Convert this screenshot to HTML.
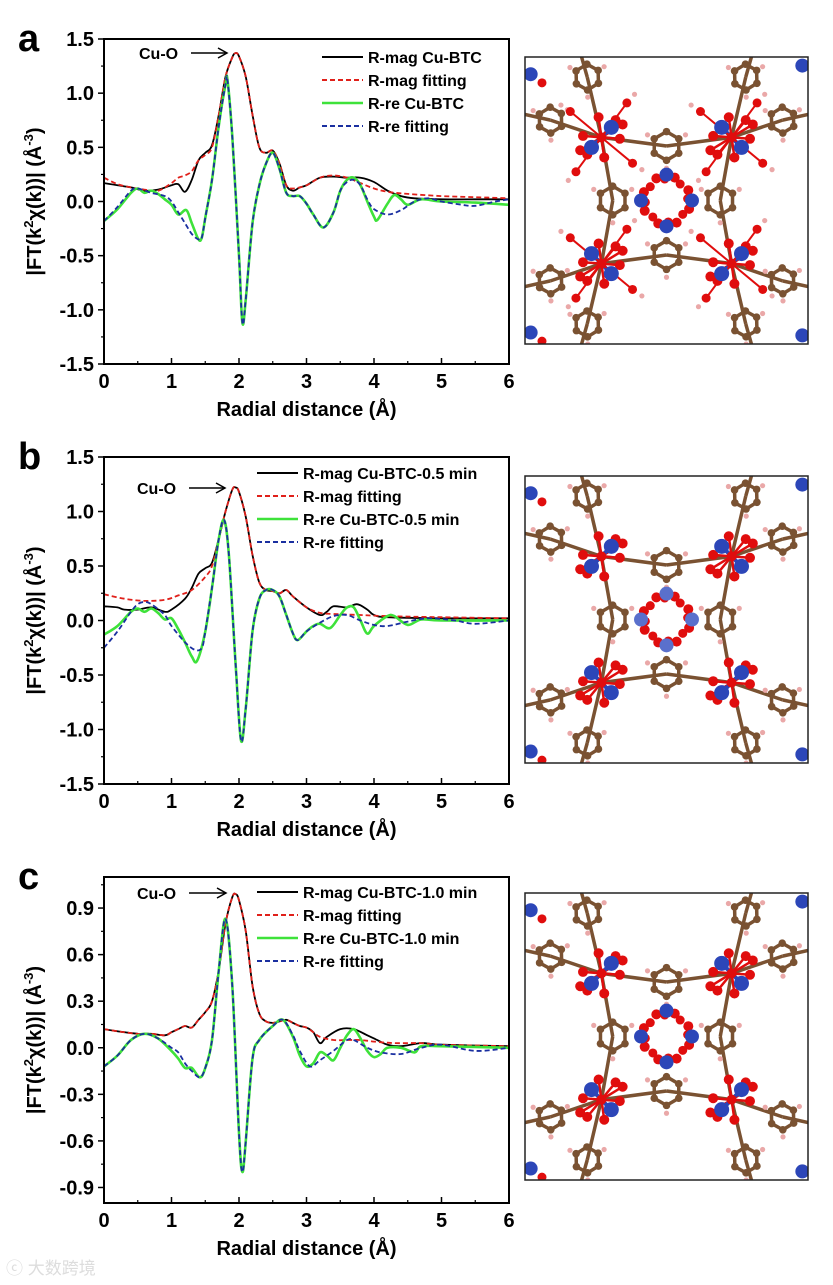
<!DOCTYPE html>
<html><head><meta charset="utf-8">
<style>
html,body{margin:0;padding:0;background:#fff;}
body{width:833px;height:1280px;overflow:hidden;position:relative;font-family:"Liberation Sans",Arial,sans-serif;}
svg text{font-family:"Liberation Sans",Arial,sans-serif;font-weight:bold;}
</style></head>
<body>
<svg id="fig" width="833" height="1280" viewBox="0 0 833 1280" xmlns="http://www.w3.org/2000/svg"></svg>
<div style="position:absolute;left:6px;top:1254px;font-size:17px;color:#ddd;font-family:'Liberation Sans','Noto Sans CJK SC',sans-serif;">ⓒ 大数跨境</div>
<script>
// ---------- Panel a data ----------
const aMagX=[0,0.2,0.4,0.6,0.8,1.0,1.1,1.2,1.3,1.4,1.5,1.6,1.7,1.8,1.9,1.95,2.0,2.1,2.2,2.3,2.4,2.5,2.6,2.7,2.8,2.9,3.0,3.2,3.4,3.6,3.8,4.0,4.2,4.4,4.6,5.0,5.5,6.0];
const aMagY=[0.17,0.15,0.13,0.10,0.11,0.15,0.16,0.09,0.20,0.38,0.45,0.52,0.80,1.15,1.33,1.37,1.34,1.15,0.80,0.50,0.45,0.47,0.35,0.15,0.10,0.13,0.15,0.22,0.23,0.22,0.22,0.18,0.10,0.05,0.03,0.02,0.02,0.02];
const aMagFitX=[0,0.2,0.4,0.6,0.8,1.0,1.1,1.2,1.3,1.4,1.5,1.6,1.7,1.8,1.9,1.95,2.0,2.1,2.2,2.3,2.4,2.5,2.6,2.7,2.8,3.0,3.2,3.4,3.6,3.8,4.0,4.2,4.5,5.0,5.5,6.0];
const aMagFitY=[0.22,0.16,0.13,0.11,0.10,0.17,0.22,0.24,0.28,0.38,0.43,0.50,0.80,1.15,1.33,1.37,1.34,1.15,0.80,0.50,0.45,0.47,0.35,0.15,0.12,0.15,0.22,0.24,0.22,0.17,0.12,0.09,0.07,0.05,0.04,0.03];
const aReX=[0,0.2,0.4,0.5,0.6,0.7,0.8,0.9,1.0,1.1,1.22,1.3,1.4,1.45,1.5,1.6,1.7,1.8,1.83,1.9,2.0,2.05,2.1,2.2,2.3,2.4,2.5,2.6,2.7,2.8,2.9,3.0,3.1,3.25,3.4,3.5,3.6,3.7,3.8,3.9,4.0,4.05,4.2,4.3,4.4,4.5,4.7,5.0,5.5,6.0];
const aReY=[-0.18,-0.07,0.08,0.12,0.08,0.10,0.07,0.02,-0.03,-0.12,-0.08,-0.20,-0.35,-0.33,-0.15,0.20,0.70,1.08,1.12,0.60,-0.50,-1.12,-0.90,-0.20,0.15,0.35,0.45,0.30,0.08,0.05,0.05,-0.02,-0.12,-0.24,-0.10,0.10,0.20,0.22,0.15,0.00,-0.14,-0.17,-0.02,0.06,0.02,-0.03,0.02,0.00,-0.01,-0.03];
const aReFitX=[0,0.2,0.4,0.5,0.7,0.9,1.0,1.1,1.2,1.3,1.4,1.45,1.5,1.6,1.7,1.8,1.83,1.9,2.0,2.05,2.1,2.2,2.3,2.4,2.5,2.6,2.7,2.8,2.9,3.0,3.1,3.25,3.4,3.5,3.6,3.7,3.8,3.9,4.0,4.2,4.4,4.6,4.8,5.0,5.3,5.5,5.8,6.0];
const aReFitY=[-0.18,-0.05,0.10,0.12,0.08,0.05,0.00,-0.10,-0.20,-0.30,-0.35,-0.33,-0.15,0.20,0.70,1.08,1.12,0.60,-0.50,-1.12,-0.90,-0.20,0.15,0.35,0.45,0.30,0.08,0.05,0.05,-0.02,-0.12,-0.24,-0.10,0.10,0.18,0.20,0.15,0.02,-0.07,-0.12,-0.08,0.00,0.03,0.00,-0.03,-0.04,0.00,0.02];
// ---------- Panel b data ----------
const bMagX=[0,0.2,0.3,0.5,0.7,0.9,1.0,1.2,1.3,1.4,1.5,1.6,1.7,1.8,1.9,1.95,2.0,2.1,2.2,2.3,2.4,2.5,2.6,2.7,2.8,3.0,3.2,3.3,3.4,3.6,3.75,3.9,4.0,4.2,5.0,6.0];
const bMagY=[0.13,0.12,0.10,0.10,0.12,0.08,0.10,0.20,0.30,0.43,0.48,0.53,0.75,1.00,1.20,1.22,1.18,0.95,0.60,0.35,0.28,0.27,0.25,0.28,0.22,0.12,0.05,0.08,0.13,0.12,0.15,0.10,0.05,0.03,0.02,0.02];
const bMagFitX=[0,0.3,0.6,0.9,1.1,1.3,1.5,1.6,1.7,1.8,1.9,1.95,2.0,2.1,2.2,2.3,2.4,2.5,2.6,2.7,2.8,3.0,3.2,3.4,3.8,4.2,5.0,6.0];
const bMagFitY=[0.24,0.20,0.18,0.19,0.23,0.28,0.40,0.50,0.75,1.00,1.20,1.22,1.18,0.95,0.60,0.35,0.28,0.27,0.25,0.28,0.22,0.12,0.07,0.06,0.05,0.04,0.03,0.02];
const bReX=[0,0.2,0.4,0.5,0.6,0.7,0.8,0.9,1.0,1.1,1.2,1.3,1.38,1.5,1.6,1.7,1.78,1.85,1.95,2.03,2.1,2.2,2.3,2.4,2.5,2.6,2.7,2.8,2.87,3.0,3.1,3.2,3.35,3.5,3.6,3.7,3.8,3.9,4.0,4.2,4.3,4.5,4.7,5.0,6.0];
const bReY=[-0.13,-0.05,0.08,0.11,0.08,0.11,0.07,0.01,0.02,-0.08,-0.20,-0.33,-0.37,-0.10,0.30,0.75,0.92,0.60,-0.40,-1.10,-0.80,-0.10,0.20,0.28,0.28,0.22,0.05,-0.12,-0.18,-0.10,-0.05,-0.03,-0.07,0.05,0.12,0.12,0.00,-0.12,-0.05,0.04,0.04,-0.04,0.01,0.00,0.00];
const bReFitX=[0,0.2,0.4,0.5,0.6,0.7,0.9,1.0,1.2,1.35,1.45,1.5,1.6,1.7,1.78,1.85,1.95,2.03,2.1,2.2,2.3,2.4,2.5,2.6,2.7,2.8,2.87,3.0,3.2,3.4,3.6,3.8,4.0,4.2,4.5,4.8,5.2,5.5,6.0];
const bReFitY=[-0.25,-0.10,0.08,0.15,0.17,0.15,0.05,-0.05,-0.20,-0.27,-0.25,-0.10,0.30,0.75,0.92,0.60,-0.40,-1.10,-0.80,-0.10,0.20,0.28,0.28,0.22,0.05,-0.12,-0.18,-0.10,-0.02,0.04,0.05,0.00,-0.04,-0.05,-0.01,0.02,0.00,-0.03,0.00];
// ---------- Panel c data ----------
const cMagX=[0,0.3,0.5,0.7,0.9,1.0,1.1,1.2,1.3,1.4,1.5,1.6,1.7,1.8,1.9,1.95,2.0,2.1,2.2,2.3,2.4,2.5,2.6,2.7,2.8,2.9,3.0,3.1,3.2,3.3,3.5,3.7,3.9,4.0,4.2,4.4,4.7,5.0,6.0];
const cMagY=[0.12,0.10,0.09,0.09,0.08,0.10,0.12,0.14,0.13,0.18,0.23,0.30,0.50,0.80,0.97,0.99,0.95,0.75,0.40,0.22,0.17,0.16,0.17,0.18,0.16,0.14,0.13,0.10,0.03,0.07,0.12,0.12,0.08,0.06,0.02,0.01,0.03,0.02,0.01];
const cMagFitX=[0,0.3,0.5,0.7,0.9,1.0,1.1,1.2,1.3,1.4,1.5,1.6,1.7,1.8,1.9,1.95,2.0,2.1,2.2,2.3,2.4,2.5,2.6,2.7,2.8,2.9,3.0,3.1,3.2,3.4,3.6,3.8,4.0,4.3,4.7,5.0,6.0];
const cMagFitY=[0.12,0.10,0.09,0.09,0.08,0.10,0.12,0.14,0.13,0.18,0.23,0.30,0.50,0.80,0.97,0.99,0.95,0.75,0.40,0.22,0.17,0.16,0.17,0.18,0.16,0.14,0.13,0.10,0.07,0.05,0.05,0.05,0.04,0.03,0.03,0.02,0.01];
const cReX=[0,0.2,0.4,0.6,0.8,1.0,1.1,1.2,1.3,1.42,1.5,1.6,1.7,1.8,1.9,2.0,2.05,2.1,2.2,2.3,2.5,2.65,2.8,2.9,3.0,3.1,3.2,3.3,3.4,3.5,3.6,3.7,3.8,3.9,4.0,4.1,4.2,4.4,4.6,4.7,5.0,6.0];
const cReY=[-0.12,-0.05,0.05,0.09,0.06,-0.02,-0.07,-0.13,-0.13,-0.19,-0.13,0.05,0.50,0.83,0.40,-0.55,-0.80,-0.60,-0.07,0.05,0.14,0.18,0.07,-0.05,-0.12,-0.10,-0.03,-0.05,-0.08,0.00,0.08,0.12,0.06,-0.02,-0.06,-0.04,0.00,0.00,-0.03,0.01,0.01,0.00];
const cReFitX=[0,0.2,0.4,0.6,0.8,1.0,1.1,1.2,1.3,1.42,1.5,1.6,1.7,1.8,1.9,2.0,2.05,2.1,2.2,2.3,2.5,2.65,2.8,2.9,3.05,3.2,3.4,3.6,3.7,3.9,4.1,4.4,4.7,5.0,5.5,6.0];
const cReFitY=[-0.12,-0.05,0.05,0.09,0.06,0.00,-0.03,-0.10,-0.15,-0.19,-0.13,0.05,0.50,0.83,0.40,-0.55,-0.80,-0.60,-0.07,0.05,0.14,0.18,0.08,-0.02,-0.12,-0.08,-0.02,0.05,0.05,0.00,-0.03,-0.04,0.00,0.02,-0.02,0.00];
// ---------- axis ticks ----------
const xTicks=[0,1,2,3,4,5,6];
const yTicksAB=[-1.5,-1.0,-0.5,0.0,0.5,1.0,1.5];
const yTicksC=[-0.9,-0.6,-0.3,0.0,0.3,0.6,0.9];
const legendA=["R-mag Cu-BTC","R-mag fitting","R-re Cu-BTC","R-re fitting"];
const legendB=["R-mag Cu-BTC-0.5 min","R-mag fitting","R-re Cu-BTC-0.5 min","R-re fitting"];
const legendC=["R-mag Cu-BTC-1.0 min","R-mag fitting","R-re Cu-BTC-1.0 min","R-re fitting"];

const NS="http://www.w3.org/2000/svg";
const svg=document.getElementById('fig');
function mk(tag,attrs,parent){const e=document.createElementNS(NS,tag);for(const k in attrs)e.setAttribute(k,attrs[k]);(parent||svg).appendChild(e);return e;}

function smoothPath(px,py){
  let d="M"+px[0].toFixed(1)+","+py[0].toFixed(1);
  for(let i=0;i<px.length-1;i++){
    const x0=px[Math.max(i-1,0)],y0=py[Math.max(i-1,0)],x1=px[i],y1=py[i],x2=px[i+1],y2=py[i+1],x3=px[Math.min(i+2,px.length-1)],y3=py[Math.min(i+2,px.length-1)];
    const c1x=x1+(x2-x0)/6,c1y=y1+(y2-y0)/6,c2x=x2-(x3-x1)/6,c2y=y2-(y3-y1)/6;
    d+=" C"+c1x.toFixed(1)+","+c1y.toFixed(1)+" "+c2x.toFixed(1)+","+c2y.toFixed(1)+" "+x2.toFixed(1)+","+y2.toFixed(1);
  }
  return d;
}

function panel(opt){
  const L=104,R=509,T=opt.top,B=opt.bottom;
  const g=mk('g',{});
  
  
  const xs=v=>L+(v-0)/(6-0)*(R-L);
  const ys=v=>B-(v-opt.ymin)/(opt.ymax-opt.ymin)*(B-T);
  const cid='clip'+opt.letter;
  const cp=mk('clipPath',{id:cid},g);mk('rect',{x:L,y:T,width:R-L,height:B-T},cp);
  const series=[
    {x:opt.magX,y:opt.magY,c:'#000',dash:'',n:'series-mag-data'},
    {x:opt.magFitX,y:opt.magFitY,c:'#e0201a',dash:'5,3',n:'series-mag-fit'},
    {x:opt.reX,y:opt.reY,c:'#3ee23a',dash:'',n:'series-re-data',w:2.6},
    {x:opt.reFitX,y:opt.reFitY,c:'#1a2fa0',dash:'5,3',n:'series-re-fit'}
  ];
  series.forEach(s=>{
    const p=mk('path',{d:smoothPath(s.x.map(xs),s.y.map(ys)),fill:'none',stroke:s.c,'stroke-width':s.w||1.8,'stroke-dasharray':s.dash,'clip-path':'url(#'+cid+')'},g);
    
    
  });
  const fr=mk('rect',{x:L,y:T,width:R-L,height:B-T,fill:'none',stroke:'#000','stroke-width':2},g);
  
  
  xTicks.forEach((v,i)=>{
    const x=xs(v);
    mk('line',{x1:x,y1:B,x2:x,y2:B-6,stroke:'#000','stroke-width':1.5},g);
    if(i<xTicks.length-1){const xm=xs(v+0.5);mk('line',{x1:xm,y1:B,x2:xm,y2:B-3,stroke:'#000','stroke-width':1.2},g);}
    const t=mk('text',{x:x,y:B+24,'text-anchor':'middle','font-size':20},g);t.textContent=String(v);
    
    
  });
  opt.yTicks.forEach((v,i)=>{
    const y=ys(v);
    mk('line',{x1:L,y1:y,x2:L-6,y2:y,stroke:'#000','stroke-width':1.5},g);
    const ym=ys(v+opt.minor);
    if(ym>T) mk('line',{x1:L,y1:ym,x2:L-3,y2:ym,stroke:'#000','stroke-width':1.2},g);
    if(i===0){const y0=ys(v-opt.minor);if(y0<B)mk('line',{x1:L,y1:y0,x2:L-3,y2:y0,stroke:'#000','stroke-width':1.2},g);}
    const t=mk('text',{x:L-10,y:y+7,'text-anchor':'end','font-size':20},g);t.textContent=v.toFixed(1);
    
    
  });
  const xt=mk('text',{x:(L+R)/2,y:B+52,'text-anchor':'middle','font-size':20},g);xt.textContent='Radial distance (Å)';
  
  
  const cy=(T+B)/2;
  const yt=mk('text',{x:0,y:0,'text-anchor':'middle','font-size':20,transform:'translate(41,'+cy+') rotate(-90)'},g);
  yt.innerHTML='|FT(k<tspan font-size="13" dy="-8">2</tspan><tspan dy="8">χ(k))| (Å</tspan><tspan font-size="13" dy="-8">-3</tspan><tspan dy="8">)</tspan>';
  
  
  const lt=mk('text',{x:18,y:opt.top+12,'font-size':38},g);lt.textContent=opt.letter;
  
  
  const ct=mk('text',{x:opt.cuX,y:opt.cuY+6,'font-size':16},g);ct.textContent='Cu-O';
  
  
  mk('line',{x1:opt.cuX+52,y1:opt.cuY,x2:opt.arrowEnd,y2:opt.cuY,stroke:'#000','stroke-width':1.5},g);
  mk('path',{d:'M'+(opt.arrowEnd-9)+','+(opt.cuY-5)+' L'+opt.arrowEnd+','+opt.cuY+' L'+(opt.arrowEnd-9)+','+(opt.cuY+5),fill:'none',stroke:'#000','stroke-width':1.5},g);
  const cols=['#000','#e0201a','#3ee23a','#1a2fa0'],dashes=['','5,3','','5,3'];
  opt.legend.forEach((s,i)=>{
    const y=opt.legY+i*23;
    const lg=mk('g',{},g);
    
    
    mk('line',{x1:opt.legX,y1:y,x2:opt.legX+41,y2:y,stroke:cols[i],'stroke-width':i===2?2.6:2,'stroke-dasharray':dashes[i]},lg);
    const t=mk('text',{x:opt.legX+46,y:y+6,'font-size':16},lg);t.textContent=s;
  });
}

panel({name:'chart-a',letter:'a',top:39,bottom:364,ymin:-1.5,ymax:1.5,minor:0.25,yTicks:yTicksAB,
  magX:aMagX,magY:aMagY,magFitX:aMagFitX,magFitY:aMagFitY,reX:aReX,reY:aReY,reFitX:aReFitX,reFitY:aReFitY,
  legend:legendA,legX:322,legY:57,cuX:139,cuY:53,arrowEnd:227});
panel({name:'chart-b',letter:'b',top:457,bottom:784,ymin:-1.5,ymax:1.5,minor:0.25,yTicks:yTicksAB,
  magX:bMagX,magY:bMagY,magFitX:bMagFitX,magFitY:bMagFitY,reX:bReX,reY:bReY,reFitX:bReFitX,reFitY:bReFitY,
  legend:legendB,legX:257,legY:473,cuX:137,cuY:488,arrowEnd:225});
panel({name:'chart-c',letter:'c',top:877,bottom:1203,ymin:-1.0,ymax:1.1,minor:0.15,yTicks:yTicksC,
  magX:cMagX,magY:cMagY,magFitX:cMagFitX,magFitY:cMagFitY,reX:cReX,reY:cReY,reFitX:cReFitX,reFitY:cReFitY,
  legend:legendC,legX:257,legY:892,cuX:137,cuY:893,arrowEnd:226});

// ---------- molecular structure images ----------
function structure(name,bx,by,bw,bh,variant){
  const g=mk('g',{});
  
  
  const cid='clip-'+name;
  const cp=mk('clipPath',{id:cid},g);mk('rect',{x:bx,y:by,width:bw,height:bh},cp);
  const inner=mk('g',{'clip-path':'url(#'+cid+')'},g);
  const P=(u,v)=>[bx+u*bw,by+v*bh];
  const brown='#7a5232',red='#e00d0d',blue='#2c46b8',pink='#eaa8a8';
  const bond=(a,b,c,w)=>{const p=P(a[0],a[1]),q=P(b[0],b[1]);mk('line',{x1:p[0],y1:p[1],x2:q[0],y2:q[1],stroke:c||brown,'stroke-width':w||3.5},inner);};
  const ball=(u,v,r,c)=>{const p=P(u,v);mk('circle',{cx:p[0],cy:p[1],r:r,fill:c},inner);};
  const ringPts=(cu,cv,rad,rot)=>{const pts=[];for(let k=0;k<6;k++){const a=rot+k*Math.PI/3;pts.push([cu+rad*Math.cos(a),cv+rad*Math.sin(a)]);}return pts;};
  const drawRing=(cu,cv,rad,rot,h)=>{const pts=ringPts(cu,cv,rad,rot);
    for(let k=0;k<6;k++)bond(pts[k],pts[(k+1)%6]);
    if(h)[1,3,5].forEach(k=>{const p=pts[k];ball(cu+(p[0]-cu)*1.55,cv+(p[1]-cv)*1.55,2.6,pink);});
    pts.forEach(p=>ball(p[0],p[1],3.8,brown));return pts;};
  const clusters=[[0.27,0.28],[0.73,0.28],[0.27,0.72],[0.73,0.72]];
  const inner4=[[0.5,0.31],[0.31,0.5],[0.69,0.5],[0.5,0.69]];
  // outer rings near edges
  const outer=[[0.09,0.22],[0.22,0.07],[0.91,0.22],[0.78,0.07],[0.09,0.78],[0.22,0.93],[0.91,0.78],[0.78,0.93]];
  const oc=[0,0,1,1,2,2,3,3];
  outer.forEach((o,i)=>bond(o,clusters[oc[i]]));
  bond([0,0.2],[0.09,0.22]);bond([1,0.2],[0.91,0.22]);bond([0,0.8],[0.09,0.78]);bond([1,0.8],[0.91,0.78]);
  bond([0.2,0],[0.22,0.07]);bond([0.8,0],[0.78,0.07]);bond([0.2,1],[0.22,0.93]);bond([0.8,1],[0.78,0.93]);
  bond(clusters[0],inner4[0]);bond(clusters[1],inner4[0]);bond(clusters[2],inner4[3]);bond(clusters[3],inner4[3]);
  bond(clusters[0],inner4[1]);bond(clusters[2],inner4[1]);bond(clusters[1],inner4[2]);bond(clusters[3],inner4[2]);
  outer.forEach(o=>drawRing(o[0],o[1],0.045,0.5,true));
  inner4.forEach(r=>drawRing(r[0],r[1],0.05,Math.PI/6,true));
  // clusters
  clusters.forEach((c,i)=>{
    const s=(i===0||i===3)?1:-1;
    const b1=[c[0]-0.035,c[1]+0.035*s],b2=[c[0]+0.035,c[1]-0.035*s];
    const reds=[[-0.065,-0.005],[0.065,0.005],[-0.01,-0.07],[0.01,0.07],[-0.05,0.06],[0.05,-0.06],[0.0,0.0],[-0.075,0.045],[0.075,-0.045]];
    reds.forEach(r=>bond(c,[c[0]+r[0],c[1]+r[1]],red,2.5));
    bond(b1,b2,blue,4);
    if(variant===0){[[-0.11,-0.09],[0.11,0.09],[-0.09,0.12],[0.09,-0.12]].forEach(r=>{bond(c,[c[0]+r[0],c[1]+r[1]],red,2);ball(c[0]+r[0]*1.3,c[1]+r[1]*1.25,2.6,pink);ball(c[0]+r[0],c[1]+r[1],4.5,red);});}
    reds.forEach(r=>ball(c[0]+r[0],c[1]+r[1],5,red));
    ball(b1[0],b1[1],7.5,blue);ball(b2[0],b2[1],7.5,blue);
  });
  // central ring of Cu
  const ang=[0,1,2,3,4,5,6,7].map(k=>k*Math.PI/4+0.35);
  ang.forEach(a=>ball(0.5+0.085*Math.cos(a),0.5+0.085*Math.sin(a),5,red));
  ang.forEach(a=>ball(0.5+0.075*Math.cos(a+0.35),0.5+0.075*Math.sin(a+0.35),4.5,red));
  [[0.5,0.41],[0.41,0.5],[0.59,0.5],[0.5,0.59]].forEach(c=>ball(c[0],c[1],7,variant===1?'#5a70cc':blue));
  // edge partial Cu
  [[0.02,0.06],[0.98,0.03],[0.02,0.96],[0.98,0.97]].forEach(c=>{ball(c[0]+0.04,c[1]+0.03,4.5,red);ball(c[0],c[1],7,blue);});
  const fr=mk('rect',{x:bx,y:by,width:bw,height:bh,fill:'none',stroke:'#222','stroke-width':1.5},g);
}
structure('structure-image-a',525,57,283,287,0);
structure('structure-image-b',525,476,283,287,1);
structure('structure-image-c',525,893,283,287,2);
</script>
</body></html>
